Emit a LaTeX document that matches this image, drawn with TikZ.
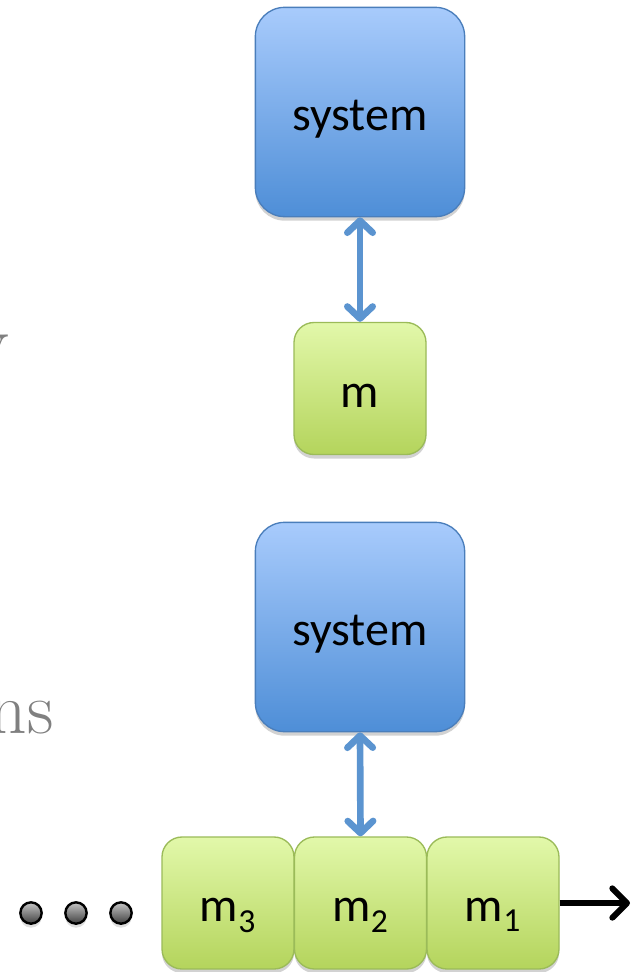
\documentclass[tikz,border=0pt]{standalone}
\usepackage{fontspec}
\newfontfamily\calib{Carlito}
\usetikzlibrary{arrows.meta,shadows}
\definecolor{bluetop}{RGB}{168,203,252}
\definecolor{bluebot}{RGB}{78,142,215}
\definecolor{blueline}{RGB}{74,126,187}
\definecolor{greentop}{RGB}{226,248,170}
\definecolor{greenbot}{RGB}{180,212,92}
\definecolor{greenline}{RGB}{155,187,89}
\definecolor{arrowblue}{RGB}{91,148,208}
\definecolor{txtgray}{RGB}{128,128,128}
\begin{document}
\begin{tikzpicture}[x=0.75pt,y=-0.75pt,
  sysbox/.style={draw=blueline, line width=1pt, top color=bluetop, bottom color=bluebot,
    rounded corners=22pt, minimum width=157pt, minimum height=157pt, inner sep=0pt,
    font=\calib\fontsize{36}{40}\selectfont, text height=27pt, text depth=0pt,
    drop shadow={shadow xshift=0pt, shadow yshift=-3pt, opacity=0.35}},
  membox/.style={draw=greenline, line width=1pt, top color=greentop, bottom color=greenbot,
    rounded corners=15pt, minimum width=99pt, minimum height=99pt, inner sep=0pt,
    font=\calib\fontsize{36}{40}\selectfont, text height=28pt, text depth=0pt,
    drop shadow={shadow xshift=0pt, shadow yshift=-3pt, opacity=0.35}},
  link/.style={draw=arrowblue, line width=5pt,
    {Straight Barb[length=9pt,width=19pt,round]}-{Straight Barb[length=9pt,width=19pt,round]}},
  outarrow/.style={draw=black, line width=4.5pt, -{Straight Barb[length=11pt,width=22pt,round]}},
  dot/.style={circle, draw=black, line width=1.8pt, top color=gray!45, bottom color=black!75,
    minimum size=16pt, inner sep=0pt,
    drop shadow={shadow xshift=0pt, shadow yshift=-3pt, opacity=0.25}},
  bgtext/.style={text=txtgray, font=\fontsize{55}{60}\selectfont, inner sep=0pt}
]
\useasboundingbox (0,0) rectangle (632,972);
\clip (0,0) rectangle (632,972);
\fill[white] (0,0) rectangle (632,972);

% partially visible background text
\node[bgtext, anchor=base east] (ytxt) at (9,366) {y};
\node[bgtext, anchor=base east] (nstxt) at (54,733) {ns};

% top pair
\node[sysbox] (sys1) at (360,112) {system};
\node[membox] (m) at (360,388.5) {m};
\draw[link] (sys1.south) -- (m.north);

% bottom group
\node[sysbox] (sys2) at (360,627) {system};
\node[membox] (m3) at (228,903) {m\textsubscript{3}};
\node[membox] (m2) at (360.5,903) {m\textsubscript{2}};
\node[membox] (m1) at (493,903) {m\textsubscript{1}};
\draw[link] (sys2.south) -- (m2.north);

\coordinate (outend) at (630,903);
\draw[outarrow] (m1.east) -- (outend);

\node[dot] (d1) at (31,913) {};
\node[dot] (d2) at (76,913) {};
\node[dot] (d3) at (121,913) {};
\end{tikzpicture}
\end{document}
